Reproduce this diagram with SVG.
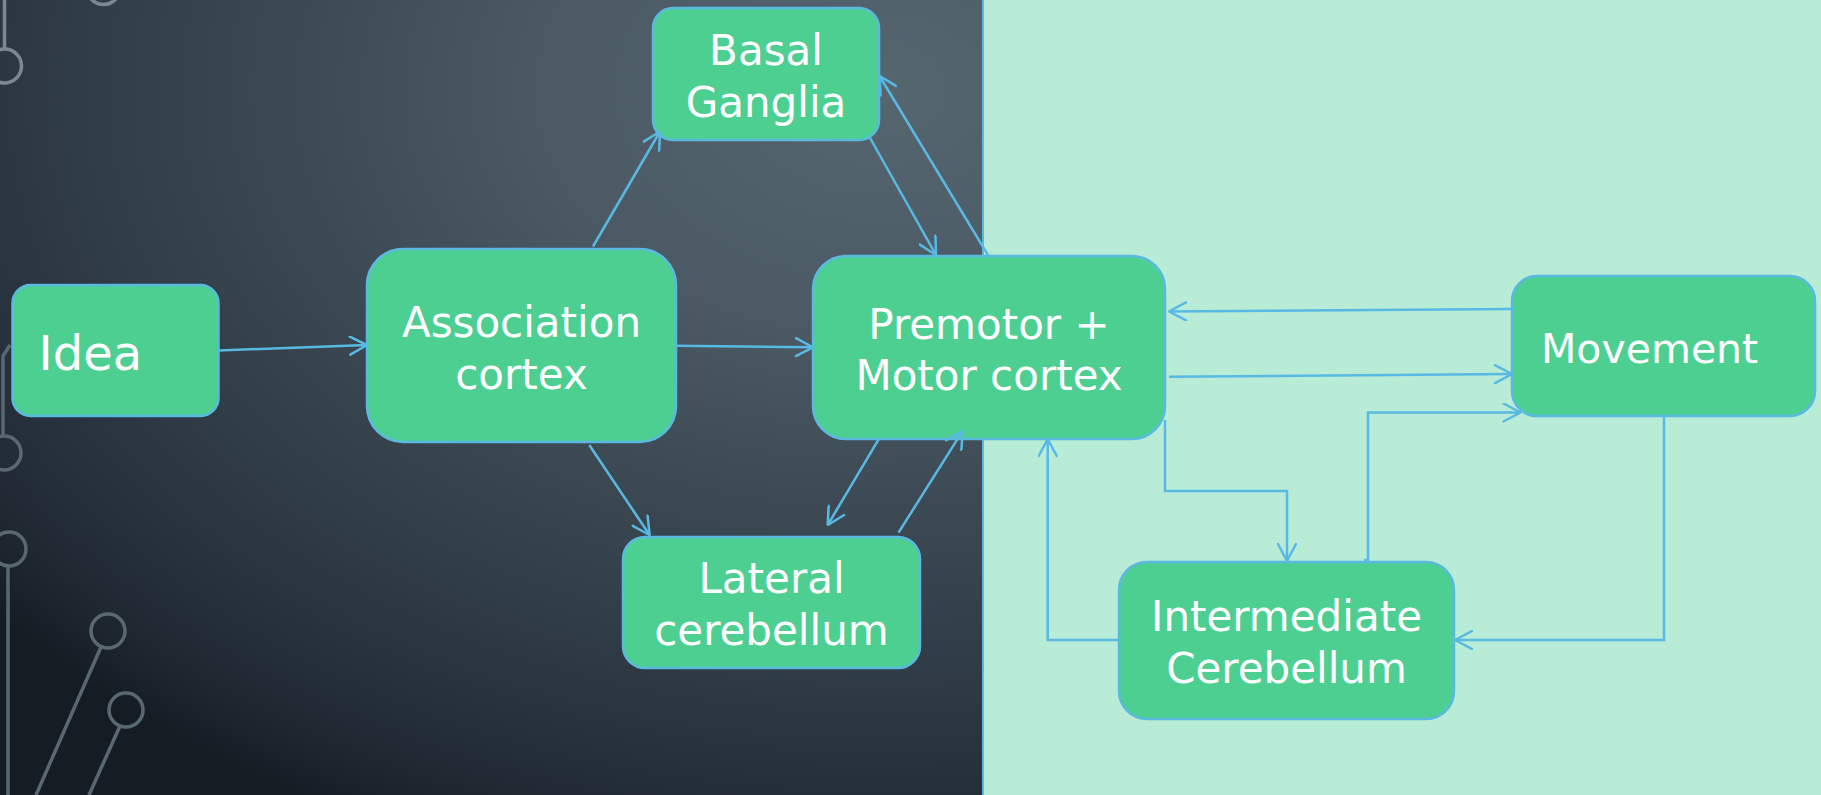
<svg xmlns="http://www.w3.org/2000/svg" width="1821" height="795" viewBox="0 0 1821 795">
<defs>
<radialGradient id="bg" gradientUnits="userSpaceOnUse" cx="880" cy="90" r="1" gradientTransform="translate(880 90) scale(1150 820) translate(-880 -90)">
<stop offset="0" stop-color="#56666f"/>
<stop offset="0.3" stop-color="#4a5964"/>
<stop offset="0.7" stop-color="#303c46"/>
<stop offset="0.9" stop-color="#222b35"/>
<stop offset="1.1" stop-color="#161c24"/>
</radialGradient>
<marker id="arr" viewBox="0 0 20 20" refX="19" refY="10" markerWidth="20" markerHeight="20" markerUnits="userSpaceOnUse" orient="auto">
<path d="M2,1 L19,10 L2,19" fill="none" stroke="#58b9e2" stroke-width="2.5" stroke-linecap="round" stroke-linejoin="round"/>
</marker>
<style>
.box{fill:#4ecf92;stroke:#5ab9df;stroke-width:2.5}
.t{fill:#ffffff;font-family:"DejaVu Sans",Verdana,sans-serif;font-size:42px;text-anchor:middle}
.c{fill:none;stroke:#58b9e2;stroke-width:2.5;marker-end:url(#arr)}
.deco{fill:none;stroke-width:3.5}
</style>
</defs>
<rect x="0" y="0" width="1821" height="795" fill="url(#bg)"/>
<g id="decoration">
<g stroke="#7b8891" class="deco">
<circle cx="103.5" cy="-12" r="16.5"/>
<path d="M4.5,0 L4.5,49"/>
<circle cx="4.5" cy="66" r="17"/>
</g>
<g stroke="#5a6871" class="deco">
<path d="M10,345 L3,356 L3,436"/>
<circle cx="4" cy="453" r="17"/>
<circle cx="9" cy="549" r="17"/>
<path d="M8,566 L8,795"/>
<circle cx="108" cy="631" r="17"/>
<path d="M101,647 L36,795"/>
<circle cx="126" cy="710" r="17"/>
<path d="M120,726 L89,795"/>
</g>
</g>
<g id="panel">
<rect x="983" y="0" width="838" height="795" fill="#b8ecd6"/>
<line x1="983" y1="0" x2="983" y2="795" stroke="#5ab9df" stroke-width="2"/>
</g>
<g id="idea">
<rect class="box" x="12.5" y="285" width="206" height="131" rx="18"/>
<text class="t" x="38.5" y="370" style="font-size:48px;text-anchor:start">Idea</text>
</g>
<g id="association">
<rect class="box" x="367" y="249" width="309" height="193" rx="36"/>
<text class="t" x="521.5" y="337">Association</text>
<text class="t" x="521.5" y="389">cortex</text>
</g>
<g id="basal">
<rect class="box" x="653" y="8" width="226" height="132" rx="20"/>
<text class="t" x="766" y="65">Basal</text>
<text class="t" x="766" y="117">Ganglia</text>
</g>
<g id="premotor">
<rect class="box" x="813" y="256" width="352" height="183" rx="33"/>
<text class="t" x="989" y="339">Premotor +</text>
<text class="t" x="989" y="390">Motor cortex</text>
</g>
<g id="lateral">
<rect class="box" x="623" y="537" width="297" height="131" rx="22"/>
<text class="t" x="771.5" y="593">Lateral</text>
<text class="t" x="771.5" y="645">cerebellum</text>
</g>
<g id="intermediate">
<rect class="box" x="1119" y="562" width="335" height="157" rx="28"/>
<text class="t" x="1286.5" y="631">Intermediate</text>
<text class="t" x="1286.5" y="683">Cerebellum</text>
</g>
<g id="movement">
<rect class="box" x="1512" y="276" width="303" height="140" rx="25"/>
<text class="t" x="1541" y="363" style="font-size:41px;text-anchor:start">Movement</text>
</g>
<g id="connectors">
<path class="c" d="M218.5,350.5 L367,345"/>
<path class="c" d="M676,345.7 L813,347.3"/>
<path class="c" d="M593,246.5 L660,131.5"/>
<path class="c" d="M869.3,136.7 L936,255"/>
<path class="c" d="M988.5,256 L879.5,76"/>
<path class="c" d="M589.3,445 L649.6,535"/>
<path class="c" d="M878.6,439.3 L827.7,525"/>
<path class="c" d="M898.5,532.7 L962.8,430.7"/>
<path class="c" d="M1512,309 L1169,311.5"/>
<path class="c" d="M1169,376.7 L1512,374"/>
<path class="c" d="M1165,420 L1165,491 L1287,491 L1287,561"/>
<path class="c" d="M1364,560 L1368,560 L1368,412.5 L1520.5,412.5"/>
<path class="c" d="M1664,416.5 L1664,640 L1455,640"/>
<path class="c" d="M1119,640 L1047.7,640 L1047.7,439"/>
</g>
</svg>
